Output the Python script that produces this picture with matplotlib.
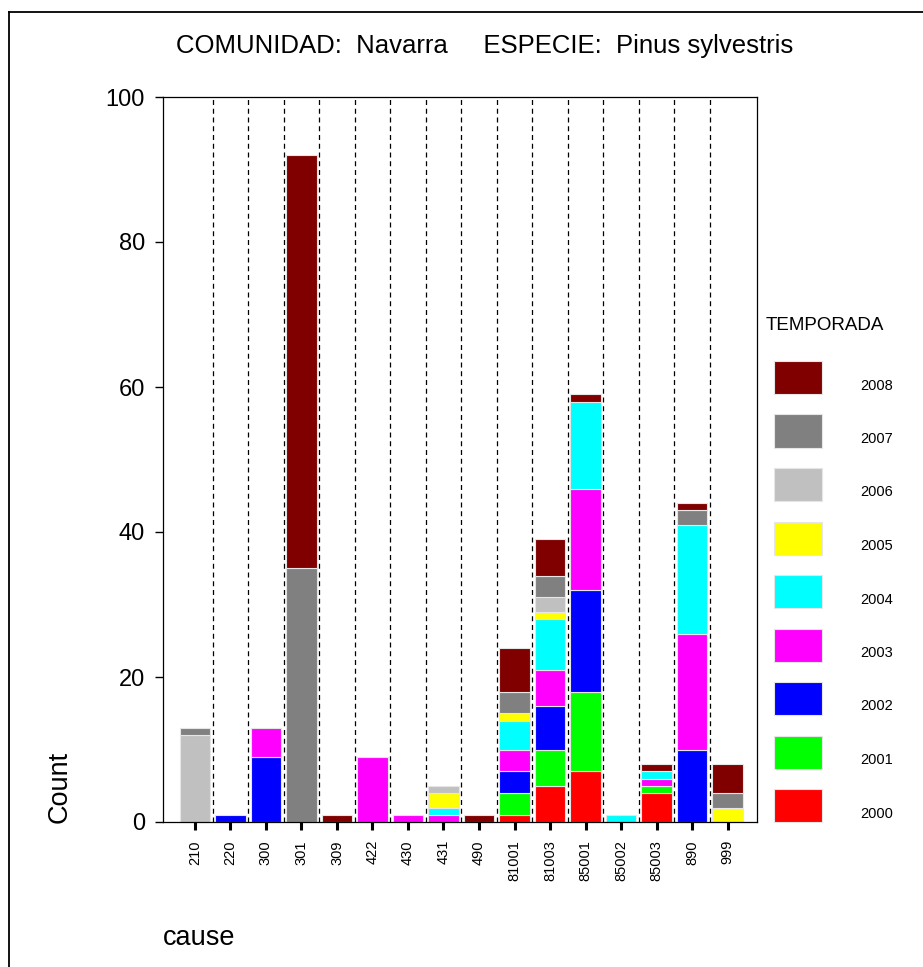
import matplotlib

matplotlib.use("Agg")
import matplotlib.pyplot as plt
import numpy as np
from matplotlib.lines import Line2D
from matplotlib.patches import Rectangle

plt.rcParams["font.family"] = ["Liberation Sans", "DejaVu Sans"]

causes = ["210", "220", "300", "301", "309", "422", "430", "431", "490",
          "81001", "81003", "85001", "85002", "85003", "890", "999"]
seasons = ["2000", "2001", "2002", "2003", "2004", "2005", "2006", "2007", "2008"]
colors = ["#ff0000", "#00ff00", "#0000ff", "#ff00ff", "#00ffff",
          "#ffff00", "#c0c0c0", "#808080", "#800000"]

c2000 = [0, 0, 0, 0, 0, 0, 0, 0, 0, 1, 5, 7, 0, 4, 0, 0]
c2001 = [0, 0, 0, 0, 0, 0, 0, 0, 0, 3, 5, 11, 0, 1, 0, 0]
c2002 = [0, 1, 9, 0, 0, 0, 0, 0, 0, 3, 6, 14, 0, 0, 10, 0]
c2003 = [0, 0, 4, 0, 0, 9, 1, 1, 0, 3, 5, 14, 0, 1, 16, 0]
c2004 = [0, 0, 0, 0, 0, 0, 0, 1, 0, 4, 7, 12, 1, 1, 15, 0]
c2005 = [0, 0, 0, 0, 0, 0, 0, 2, 0, 1, 1, 0, 0, 0, 0, 2]
c2006 = [12, 0, 0, 0, 0, 0, 0, 1, 0, 0, 2, 0, 0, 0, 0, 0]
c2007 = [1, 0, 0, 35, 0, 0, 0, 0, 0, 3, 3, 0, 0, 0, 2, 2]
c2008 = [0, 0, 0, 57, 1, 0, 0, 0, 1, 6, 5, 1, 0, 1, 1, 4]
counts = [c2000, c2001, c2002, c2003, c2004, c2005, c2006, c2007, c2008]

W, H = 923, 967
fig = plt.figure(figsize=(W / 100, H / 100), dpi=100)
ax = fig.add_axes([163 / W, 1 - 822 / H, (757 - 163) / W, (822 - 97) / H])

x = np.arange(len(causes))
bottom = np.zeros(len(causes))
for vals, col in zip(counts, colors):
    vals = np.array(vals, dtype=float)
    mask = vals > 0
    ax.bar(x[mask], vals[mask], bottom=bottom[mask], width=0.87, color=col,
           edgecolor="#e6e6e6", linewidth=0.8, zorder=2)
    bottom += vals

for k in range(len(causes) - 1):
    ax.axvline(k + 0.5, color="black", linestyle=(0, (4, 3)), linewidth=0.9, zorder=1)

ax.set_xlim(-0.9, len(causes) - 1 + 0.83)
ax.set_ylim(0, 100)
ax.set_yticks([0, 20, 40, 60, 80, 100])
ax.set_xticks(x)
ax.set_xticklabels(causes, rotation=90, fontsize=10.5)
ax.tick_params(axis="y", labelsize=17, length=6, width=1, pad=7)
ax.tick_params(axis="x", length=6, width=2.2, pad=7)
for sp in ax.spines.values():
    sp.set_linewidth(0.9)

fig.text(485 / W, 1 - 46 / H, "COMUNIDAD:  Navarra     ESPECIE:  Pinus sylvestris",
         ha="center", va="center", fontsize=18.5)
fig.text(60 / W, 1 - 787 / H, "Count", rotation=90, ha="center", va="center", fontsize=19.5)
fig.text(163 / W, 1 - 945 / H, "cause", ha="left", va="baseline", fontsize=19.5)

# legend drawn by hand, newest season on top
fig.text(766 / W, 1 - 326 / H, "TEMPORADA", ha="left", va="center", fontsize=13.5)
for i, (season, col) in enumerate(zip(seasons[::-1], colors[::-1])):
    top = 361 + i * 53.5
    fig.add_artist(Rectangle((774 / W, 1 - (top + 33) / H), 48 / W, 33 / H,
                             transform=fig.transFigure, facecolor=col,
                             edgecolor="#e6e6e6", linewidth=0.8))
    fig.text(860 / W, 1 - (top + 24.5) / H, season, ha="left", va="center", fontsize=10.5)

# outer frame (top and left edges visible)
fig.add_artist(Line2D([9 / W, 9 / W], [0, 1 - 12 / H], transform=fig.transFigure,
                      color="black", linewidth=1.3))
fig.add_artist(Line2D([9 / W, 1], [1 - 12 / H, 1 - 12 / H], transform=fig.transFigure,
                      color="black", linewidth=1.3))

fig.savefig("out.png", dpi=100)
plt.close(fig)
